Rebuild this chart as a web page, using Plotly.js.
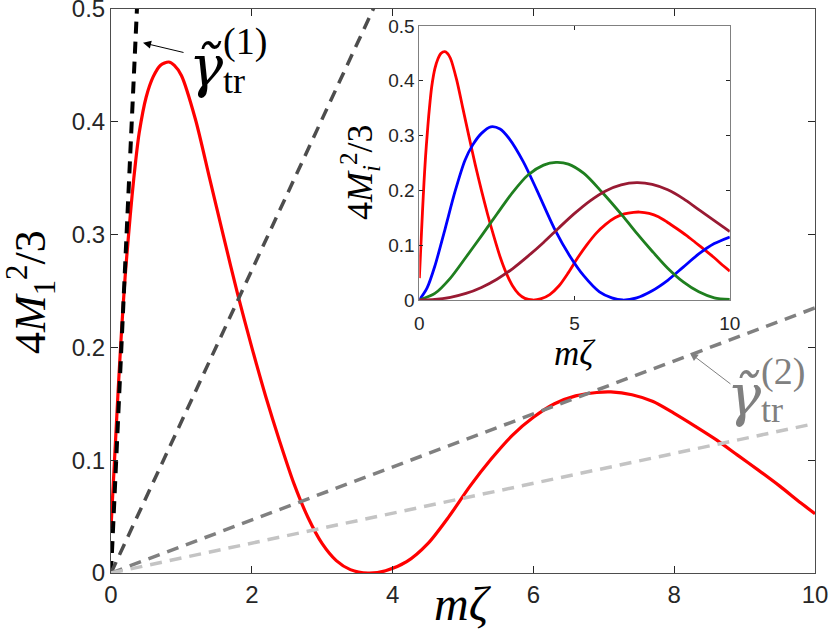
<!DOCTYPE html>
<html>
<head>
<meta charset="utf-8">
<script src="https://cdn.plot.ly/plotly-3.0.1.min.js"></script>
<style>
  html, body { margin: 0; padding: 0; background: #fff; }
  #chart { width: 830px; height: 634px; }
</style>
</head>
<body>
<div id="chart"></div>
<script>
// values
var zetaRed = [0, 0.05, 0.1, 0.15, 0.2, 0.25, 0.3, 0.35, 0.4, 0.5, 0.6, 0.7, 0.82, 0.9, 1.0,
  1.2, 1.4, 1.6, 1.8, 2.0, 2.2, 2.4, 2.6, 2.8, 3.0, 3.2, 3.4, 3.65, 3.9, 4.2, 4.5, 4.8,
  5.1, 5.4, 5.7, 6.0, 6.3, 6.6, 6.9, 7.1, 7.4, 7.7, 8.0, 8.3, 8.6, 8.9, 9.2, 9.5, 9.8, 10];
var mRed = [0.040, 0.100, 0.160, 0.215, 0.262, 0.300, 0.335, 0.365, 0.390, 0.422, 0.440, 0.450, 0.453, 0.450, 0.441,
  0.402, 0.350, 0.298, 0.247, 0.200, 0.156, 0.116, 0.079, 0.049, 0.026, 0.011, 0.003, 0.000, 0.002, 0.010, 0.026, 0.050,
  0.077, 0.101, 0.122, 0.138, 0.150, 0.157, 0.160, 0.1605, 0.158, 0.152, 0.1415, 0.130, 0.118, 0.1045, 0.091, 0.077, 0.062, 0.0525];

var zetaBlue = [0, 0.25, 0.5, 0.83, 1.15, 1.47, 1.72, 2.0, 2.3, 2.6, 2.9, 3.35, 3.78, 4.37, 4.85, 5.3,
  5.8, 6.2, 6.55, 7.0, 7.5, 8.0, 8.5, 9.0, 9.5, 10];
var mBlue = [0, 0.022, 0.062, 0.130, 0.198, 0.255, 0.283, 0.304, 0.316, 0.312, 0.294, 0.252, 0.201, 0.128, 0.080, 0.044,
  0.015, 0.004, 0.000, 0.004, 0.017, 0.036, 0.060, 0.084, 0.103, 0.115];

var zetaGreen = [0, 0.5, 1.0, 1.5, 2.0, 2.5, 3.0, 3.5, 4.0, 4.4, 4.8, 5.3, 5.88, 6.57, 7.0, 7.5,
  8.0, 8.5, 9.0, 9.5, 10];
var mGreen = [0, 0.012, 0.040, 0.078, 0.117, 0.157, 0.196, 0.228, 0.246, 0.251, 0.248, 0.231, 0.197, 0.152, 0.122, 0.089,
  0.058, 0.033, 0.015, 0.004, 0.001];

var zetaMaroon = [0, 0.5, 1.0, 1.5, 2.0, 2.5, 3.0, 3.5, 4.0, 4.5, 5.0, 5.5, 6.0, 6.5, 7.0,
  7.5, 8.0, 8.5, 9.0, 9.5, 10];
var mMaroon = [0, 0.001, 0.005, 0.012, 0.023, 0.038, 0.057, 0.080, 0.105, 0.132, 0.158, 0.181, 0.199, 0.210, 0.214,
  0.211, 0.201, 0.185, 0.165, 0.145, 0.125];

// dashed reference lines through the origin: value reached at m*zeta = 10
var refNames = ['gamma_tr(1)', 'steep', 'gamma_tr(2)', 'shallow'];
var refZeta = [0, 10];
var refEnd = [13.57, 1.342, 0.235, 0.1325];
var refColors = ['#000000', '#4d4d4d', '#808080', '#c4c4c4'];

var xTicksMain = [0, 2, 4, 6, 8, 10];
var yTicks = [0, 0.1, 0.2, 0.3, 0.4, 0.5];
var yTickText = ['0', '0.1', '0.2', '0.3', '0.4', '0.5'];
var xTicksInset = [0, 5, 10];

var tickFont = 'Liberation Sans, Arial, sans-serif';
var mathFont = 'Liberation Serif, Times New Roman, serif';
var greekFont = 'DejaVu Serif, serif';
var axisColor = '#262626';

var traces = [];

traces.push({
  x: zetaRed, y: mRed, type: 'scatter', mode: 'lines',
  line: { color: '#ff0000', width: 3.2, shape: 'spline', smoothing: 0.8 },
  xaxis: 'x', yaxis: 'y', showlegend: false
});

var dashWidths = [4, 3.5, 3.5, 3.5];
refEnd.forEach(function(v, i) {
  traces.push({
    x: refZeta, y: [0, v], type: 'scatter', mode: 'lines', name: refNames[i],
    line: { color: refColors[i], width: dashWidths[i], dash: '12px,8px' },
    xaxis: 'x', yaxis: 'y', showlegend: false
  });
});

var insetSeries = [
  [zetaRed, mRed, '#ff0000'],
  [zetaBlue, mBlue, '#0000ff'],
  [zetaGreen, mGreen, '#1f7f1f'],
  [zetaMaroon, mMaroon, '#991a33']
];
insetSeries.forEach(function(s) {
  traces.push({
    x: s[0], y: s[1], type: 'scatter', mode: 'lines',
    line: { color: s[2], width: 2.8, shape: 'spline', smoothing: 0.8 },
    xaxis: 'x2', yaxis: 'y2', showlegend: false
  });
});

var axisBase = {
  showline: true,
  linecolor: '#4d4d4d',
  linewidth: 1,
  mirror: 'ticks',
  ticks: 'inside',
  tickcolor: axisColor,
  showgrid: false,
  zeroline: false,
  ticklabeloverflow: 'allow',
  tickfont: { family: tickFont, color: axisColor }
};

// paper position from a pixel position inside the 830x634 figure
var plotL = 111, plotT = 9, plotW = 704, plotH = 564;
var plotB = plotT + plotH;
function px(x) { return (x - plotL) / plotW; }
function py(y) { return (plotB - y) / plotH; }

function textNote(text, x, y, size, color, angle, family) {
  return {
    text: text, xref: 'paper', yref: 'paper', x: px(x), y: py(y),
    showarrow: false, xanchor: 'center', yanchor: 'middle', textangle: angle || 0,
    font: { family: family || mathFont, size: size, color: color }
  };
}

function gammaLabel(sup, gx, gy, color) {
  return [
    textNote('<i>γ\u0303</i>', gx, gy, 57, color, 0, greekFont),
    textNote('(' + sup + ')', gx + 39, gy - 24, 38, color),
    textNote('tr', gx + 28, gy + 15, 36, color)
  ];
}

var annotations = [
  textNote('<i>mζ</i>', 463, 603, 48, '#000'),
  textNote('4<i>M</i><sub>1</sub><sup>2</sup>/3', 31, 292, 44, '#000', -90),
  textNote('<i>mζ</i>', 575, 353, 35, '#000'),
  textNote('4<i>M<sub>i</sub></i><sup>2</sup>/3', 360, 172, 36, '#000', -90),
  { text: '', x: 0.455, y: 0.47, xref: 'x', yref: 'y', ax: 42, ay: 10, showarrow: true,
    arrowhead: 2, arrowsize: 1.6, arrowwidth: 1, arrowcolor: '#000' },
  { text: '', x: 8.224, y: 0.195, xref: 'x', yref: 'y', ax: 42, ay: 32, showarrow: true,
    arrowhead: 2, arrowsize: 1.6, arrowwidth: 1, arrowcolor: '#808080' }
].concat(gammaLabel(1, 206, 66, '#000'), gammaLabel(2, 744, 395, '#808080'));

var layout = {
  width: 830,
  height: 634,
  margin: { l: plotL, r: 830 - plotL - plotW, t: plotT, b: 634 - plotB },
  paper_bgcolor: '#ffffff',
  plot_bgcolor: '#ffffff',
  showlegend: false,
  xaxis: Object.assign({}, axisBase, {
    range: [0, 10], tickvals: xTicksMain, ticklen: 7,
    tickfont: { family: tickFont, size: 24, color: axisColor },
    domain: [0, 1], anchor: 'y'
  }),
  yaxis: Object.assign({}, axisBase, {
    range: [0, 0.5], tickvals: yTicks, ticktext: yTickText, ticklen: 7,
    tickfont: { family: tickFont, size: 24, color: axisColor },
    domain: [0, 1], anchor: 'x'
  }),
  xaxis2: Object.assign({}, axisBase, {
    range: [0, 10], tickvals: xTicksInset, ticklen: 4, linecolor: '#808080',
    tickfont: { family: tickFont, size: 19, color: axisColor },
    ticklabelstandoff: 6,
    domain: [0.438, 0.879], anchor: 'y2'
  }),
  yaxis2: Object.assign({}, axisBase, {
    range: [0, 0.5], tickvals: yTicks, ticktext: yTickText, ticklen: 4, linecolor: '#808080',
    tickfont: { family: tickFont, size: 19, color: axisColor },
    domain: [0.484, 0.970], anchor: 'x2'
  }),
  annotations: annotations
};

Plotly.newPlot('chart', traces, layout, { staticPlot: true, displayModeBar: false });
</script>
</body>
</html>
